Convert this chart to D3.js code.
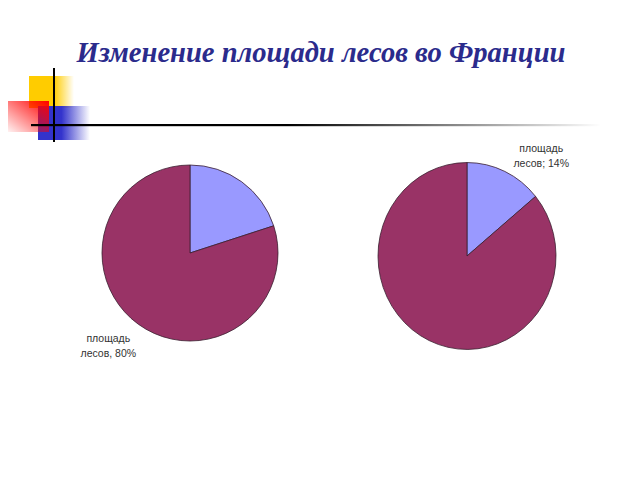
<!DOCTYPE html>
<html>
<head>
<meta charset="utf-8">
<script src="https://cdn.jsdelivr.net/npm/d3@7"></script>
<style>
  body { margin: 0; background: #fff; }
  svg { display: block; }
</style>
</head>
<body>
<svg id="canvas"></svg>
<script>
let title = "Изменение площади лесов во Франции";

// slices: [blue, maroon], clockwise from 12 o'clock
let sliceNames = ["другое", "площадь лесов"];
let pie1Values = [20, 80];
let pie2Values = [14, 86];
let pie1Label = ["площадь", "лесов, 80%"];
let pie2Label = ["площадь", "лесов; 14%"];
let pie1LabelIndex = 1;
let pie2LabelIndex = 0;

let colors = ["#9999ff", "#993366"];

let width = 640;
let height = 480;

let canvas = d3.select("#canvas")
canvas.attr("width", width);
canvas.attr("height", height);

let defs = canvas.append("defs");

let addGradient = (id, x1, y1, x2, y2, stops) => {
  let g = defs.append("linearGradient")
              .attr("id", id)
              .attr("x1", x1).attr("y1", y1)
              .attr("x2", x2).attr("y2", y2);
  stops.forEach((s) => {
    g.append("stop")
     .attr("offset", s[0])
     .attr("stop-color", s[1])
     .attr("stop-opacity", s[2]);
  });
}

addGradient("gYellow", "0", "0", "1", "0", [["0%", "#ffcc00", 1], ["55%", "#ffcc00", 1], ["100%", "#ffcc00", 0]]);
addGradient("gRed", "1", "0", "0", "1", [["0%", "#ff0000", 1], ["100%", "#ff0000", 0.05]]);
addGradient("gBlue", "0", "0", "1", "0", [["0%", "#3333cc", 1], ["45%", "#3333cc", 1], ["100%", "#3333cc", 0]]);
addGradient("gLine", "0", "0", "1", "0", [["0%", "#000", 1], ["45%", "#000", 1], ["100%", "#000", 0]]);

// title
canvas.append("text")
      .attr("x", 321)
      .attr("y", 62)
      .attr("text-anchor", "middle")
      .attr("font-family", "Liberation Serif, serif")
      .attr("font-style", "italic")
      .attr("font-weight", "bold")
      .attr("font-size", 28.6)
      .attr("fill", "#2b2b8c")
      .text(title);

// decoration
let deco = canvas.append("g");
deco.append("rect").attr("x", 29).attr("y", 76).attr("width", 45).attr("height", 32).attr("fill", "url(#gYellow)");
deco.append("rect").attr("x", 38).attr("y", 106).attr("width", 52).attr("height", 34).attr("fill", "url(#gBlue)");
deco.append("rect").attr("x", 8).attr("y", 101).attr("width", 41).attr("height", 31).attr("fill", "url(#gRed)");
deco.append("line").attr("x1", 54).attr("x2", 54).attr("y1", 68).attr("y2", 142)
    .attr("stroke", "#000").attr("stroke-width", 2);
deco.append("rect").attr("x", 31).attr("y", 124).attr("width", 570).attr("height", 2.2).attr("fill", "url(#gLine)");

let pie = d3.pie().sort(null).value((d) => d);

let drawPie = (values, cx, cy, r, sy, labelIndex, labelLines, labelR, shift) => {
  let g = canvas.append("g")
                .attr("transform", "translate(" + cx + "," + cy + ")");
  let arc = d3.arc().innerRadius(0).outerRadius(r);
  let slices = g.append("g").attr("transform", "scale(1," + sy + ")");
  slices.selectAll("path")
        .data(pie(values))
        .enter()
        .append("path")
        .attr("d", arc)
        .attr("fill", (d, i) => colors[i])
        .attr("stroke", "#3a2030")
        .attr("stroke-width", 0.8)
        .attr("vector-effect", "non-scaling-stroke")
        .append("title")
        .text((d, i) => sliceNames[i] + ": " + d.data + "%");

  // label outside the slice, nudged like the original
  let labelArc = d3.arc().innerRadius(labelR).outerRadius(labelR);
  let p = labelArc.centroid(pie(values)[labelIndex]);
  let t = g.append("text")
           .attr("text-anchor", "middle")
           .attr("font-family", "Liberation Sans, Arial, sans-serif")
           .attr("font-size", 10.5)
           .attr("fill", "#333");
  labelLines.forEach((line, i) => {
    t.append("tspan")
     .attr("x", p[0] + shift[0])
     .attr("y", p[1] * sy + shift[1] + (i - 0.5) * 15 + 4)
     .text(line);
  });
}

drawPie(pie1Values, 190, 253, 88, 1.0, pie1LabelIndex, pie1Label, 122, [-10, -6]);
drawPie(pie2Values, 467, 256, 89, 1.05, pie2LabelIndex, pie2Label, 118, [24, 12]);
</script>
</body>
</html>
